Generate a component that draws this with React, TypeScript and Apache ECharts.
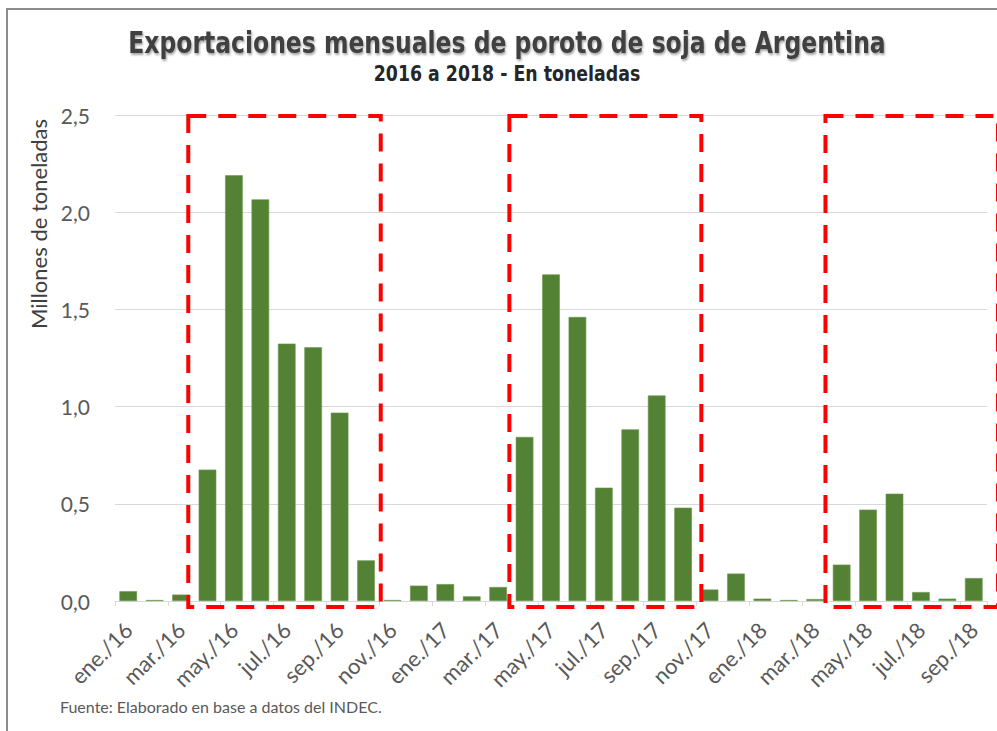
import React, { useEffect, useRef } from "react";
import * as echarts from "echarts";

const categories = [
  "ene./16", "feb./16", "mar./16", "abr./16", "may./16", "jun./16", "jul./16", "ago./16", "sep./16", "oct./16", "nov./16", "dic./16",
  "ene./17", "feb./17", "mar./17", "abr./17", "may./17", "jun./17", "jul./17", "ago./17", "sep./17", "oct./17", "nov./17", "dic./17",
  "ene./18", "feb./18", "mar./18", "abr./18", "may./18", "jun./18", "jul./18", "ago./18", "sep./18",
];

// Millones de toneladas
const exportsValues = [
  0.05, 0.005, 0.033, 0.676, 2.19, 2.066, 1.324, 1.305, 0.969, 0.209, 0.005, 0.079,
  0.087, 0.024, 0.072, 0.844, 1.68, 1.461, 0.583, 0.883, 1.057, 0.48, 0.059, 0.141,
  0.012, 0.005, 0.01, 0.187, 0.47, 0.552, 0.046, 0.012, 0.118,
];

const yMin = 0;
const yMax = 2.5;
const yInterval = 0.5;

// Highlighted harvest periods (first and last month of each box)
const highlightPeriods = [
  ["abr./16", "oct./16"],
  ["abr./17", "oct./17"],
  ["abr./18", "sep./18"],
];

const titleText = "Exportaciones mensuales de poroto de soja de Argentina";
const subtitleText = "2016 a 2018 - En toneladas";
const yAxisName = "Millones de toneladas";
const sourceText = "Fuente: Elaborado en base a datos del INDEC.";

const LABEL_FONT = 'Lato, "Open Sans", sans-serif';
const TITLE_FONT = '"Liberation Sans Narrow", "DejaVu Sans Condensed", "Liberation Sans", sans-serif';

export default function App() {
  const ref = useRef<HTMLDivElement>(null);

  useEffect(() => {
    if (!ref.current) return;
    const chart = echarts.init(ref.current, null, { renderer: "svg" });

    const option: any = {
      animation: false,
      backgroundColor: "#ffffff",
      title: [
        {
          text: sourceText,
          left: 55,
          top: 693,
          textStyle: {
            fontFamily: LABEL_FONT,
            fontSize: 16,
            fontWeight: "normal",
            color: "#595959",
          },
        },
      ],
      grid: {
        left: 115,
        right: 10,
        top: 115,
        bottom: 130,
        containLabel: false,
      },
      xAxis: {
        type: "category",
        data: categories,
        boundaryGap: true,
        axisLine: { show: true, lineStyle: { color: "#d9d9d9", width: 1 } },
        axisTick: {
          show: true,
          interval: 1,
          alignWithLabel: false,
          length: 5,
          lineStyle: { color: "#d9d9d9" },
        },
        axisLabel: {
          interval: 1,
          rotate: 45,
          margin: 25,
          fontFamily: LABEL_FONT,
          fontSize: 22,
          color: "#595959",
        },
        splitLine: { show: false },
      },
      yAxis: {
        type: "value",
        min: yMin,
        max: yMax,
        interval: yInterval,
        axisLine: { show: false },
        axisTick: { show: false },
        axisLabel: {
          margin: 25,
          fontFamily: LABEL_FONT,
          fontSize: 21,
          color: "#595959",
          formatter: (v: number) => v.toFixed(1).replace(".", ","),
        },
        splitLine: { show: true, lineStyle: { color: "#d9d9d9", width: 1 } },
      },
      series: [
        {
          type: "bar",
          data: exportsValues,
          barCategoryGap: "33.3%",
          itemStyle: { color: "#548235", borderColor: "#6b9651", borderWidth: 0.6 },
        },
      ],
      graphic: [
        {
          id: "frame",
          type: "rect",
          shape: { x: 7, y: 9, width: 1100, height: 900 },
          style: { fill: "none", stroke: "#8c8c8c", lineWidth: 2 },
          silent: true,
          z: 0,
        },
        {
          id: "title",
          type: "text",
          x: 507,
          y: 28,
          scaleX: 0.87,
          style: {
            text: titleText,
            fontFamily: TITLE_FONT,
            fontSize: 30,
            fontWeight: "bold",
            fill: "#404040",
            textAlign: "center",
            textVerticalAlign: "top",
            textShadowColor: "rgba(0,0,0,0.35)",
            textShadowBlur: 2,
            textShadowOffsetX: 1,
            textShadowOffsetY: 2,
          },
          silent: true,
        },
        {
          id: "subtitle",
          type: "text",
          x: 507,
          y: 63,
          scaleX: 0.92,
          style: {
            text: subtitleText,
            fontFamily: TITLE_FONT,
            fontSize: 21,
            fontWeight: "bold",
            fill: "#262626",
            textAlign: "center",
            textVerticalAlign: "top",
          },
          silent: true,
        },
        {
          id: "yname",
          type: "text",
          x: 38,
          y: 224,
          rotation: Math.PI / 2,
          style: {
            text: yAxisName,
            fontFamily: LABEL_FONT,
            fontSize: 22,
            fill: "#404040",
            textAlign: "center",
            textVerticalAlign: "middle",
          },
          silent: true,
        },
      ],
    };

    chart.setOption(option);

    // Dashed boxes placed through the chart's own scales
    const x0 = chart.convertToPixel({ xAxisIndex: 0 }, categories[0]) as number;
    const x1 = chart.convertToPixel({ xAxisIndex: 0 }, categories[1]) as number;
    const band = x1 - x0;
    const yTop = chart.convertToPixel({ yAxisIndex: 0 }, yMax) as number;
    const yZero = chart.convertToPixel({ yAxisIndex: 0 }, yMin) as number;
    const pads = [[6, 1.5], [2, 5], [3, 11]];
    const boxes = highlightPeriods.map((p, i) => {
      const a = chart.convertToPixel({ xAxisIndex: 0 }, p[0]) as number;
      const b = chart.convertToPixel({ xAxisIndex: 0 }, p[1]) as number;
      const left = a - band / 2 - pads[i][0];
      const right = b + band / 2 + pads[i][1];
      return {
        id: "box" + i,
        type: "rect",
        shape: { x: left, y: yTop + 1, width: right - left, height: yZero + 5 - yTop },
        style: { fill: "none", stroke: "#ff0000", lineWidth: 4, lineDash: [18, 12] },
        silent: true,
        z: 100,
      };
    });
    chart.setOption({ graphic: boxes });

    return () => chart.dispose();
  }, []);

  return (
    <div
      ref={ref}
      style={{ position: "fixed", left: 0, top: 0, width: 997, height: 731 }}
    />
  );
}
